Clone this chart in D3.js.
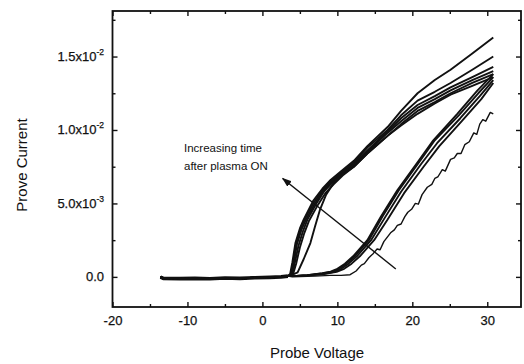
<!DOCTYPE html>
<html><head><meta charset="utf-8">
<script src="https://cdn.jsdelivr.net/npm/d3@7"></script>
<style>body{margin:0;background:#fff;} svg{display:block;font-family:"Liberation Sans",Arial,sans-serif;}</style>
</head><body>
<svg id="c" width="524" height="364"></svg>
<script>
// Values: voltage (V), current in units of 1e-3
const xTicks = [-20, -10, 0, 10, 20, 30];
const xTickLabels = ["-20", "-10", "0", "10", "20", "30"];
const yTicks = [0, 5, 10, 15];
const yTickLabels = [["0.0", ""], ["5.0x10", "-3"], ["1.0x10", "-2"], ["1.5x10", "-2"]];
const baseline = [[-13.6,-0.02],[-13.2,-0.1],[-11,-0.12],[-9,-0.1],[-7,-0.13],[-5,-0.08],[-3,-0.1],[-1,-0.06],[1,-0.03],[2.5,0.0],[3.4,0.05]];
const curveA1 = [[3.7,0.2],[4.0,1.0],[4.4,2.3],[5.0,3.3],[5.5,3.9],[6.8,5.2],[8,6.0],[9.1,6.6],[10.5,7.2],[12.2,7.9],[14,8.9],[16.7,10.2],[18.5,11.3],[20.7,12.5],[23,13.4],[25.1,14.1],[28,15.2],[30.8,16.3]];
const curveA2 = [[3.8,0.2],[4.1,1.0],[4.5,2.3],[5.1,3.3],[5.6,3.9],[6.9,5.1],[8,5.9],[9.1,6.5],[10.5,7.1],[12.2,7.8],[14,8.8],[16.7,10.0],[18.5,11.0],[20.7,12.0],[23,12.6],[25.1,13.2],[28,14.1],[30.8,15.0]];
const curveA3 = [[3.9,0.2],[4.2,1.0],[4.6,2.2],[5.2,3.2],[5.8,3.9],[7.0,5.0],[8,5.8],[9.1,6.4],[10.5,7.0],[12.2,7.7],[14,8.6],[16.7,9.9],[18.5,10.8],[20.7,11.7],[23,12.3],[25.1,12.9],[28,13.6],[30.8,14.3]];
const curveA4 = [[4.0,0.2],[4.3,0.9],[4.8,2.1],[5.4,3.1],[6.0,3.9],[7.2,5.0],[8.2,5.8],[9.3,6.4],[10.5,6.9],[12.2,7.6],[14,8.5],[16.7,9.8],[18.5,10.6],[20.7,11.5],[23,12.1],[25.1,12.7],[28,13.4],[30.8,14.0]];
const curveA5 = [[4.1,0.2],[4.5,0.9],[5.0,2.0],[5.6,3.0],[6.2,3.8],[7.4,4.9],[8.4,5.7],[9.5,6.3],[10.7,6.9],[12.2,7.5],[14,8.4],[16.7,9.6],[18.5,10.4],[20.7,11.3],[23,11.9],[25.1,12.5],[28,13.2],[30.8,13.8]];
const curveA6 = [[3.8,0.1],[4.7,0.3],[5.5,1.2],[6.4,2.3],[7.0,3.4],[7.7,4.6],[8.5,5.6],[9.5,6.4],[10.2,6.8],[12.2,7.5],[14,8.4],[16.7,9.6],[18.5,10.3],[20.7,11.1],[23,11.8],[25.1,12.4],[28,13.0],[30.8,13.6]];
const curveB1 = [[4,0.05],[6,0.12],[8,0.25],[9.1,0.35],[10,0.55],[11,0.9],[12.1,1.4],[14,2.5],[15.8,4.1],[18,5.9],[20.7,7.8],[22.8,9.3],[26,11.1],[28.7,12.7],[30.8,13.8]];
const curveB2 = [[4,0.05],[6,0.12],[8,0.23],[9.3,0.35],[10.2,0.55],[11.2,0.9],[12.3,1.4],[14.2,2.5],[16.0,4.1],[18.2,5.9],[20.9,7.8],[23.0,9.3],[26.2,11.0],[28.8,12.5],[30.8,13.6]];
const curveB3 = [[4,0.05],[6,0.1],[8,0.2],[9.6,0.35],[10.5,0.55],[11.5,0.9],[12.6,1.4],[14.5,2.5],[16.3,4.0],[18.5,5.8],[21.2,7.7],[23.3,9.1],[26.4,10.8],[29.0,12.3],[30.8,13.4]];
const curveB4 = [[4,0.05],[6,0.1],[8,0.18],[9.9,0.35],[10.9,0.55],[11.9,0.9],[13.0,1.4],[14.9,2.5],[16.7,3.9],[18.9,5.7],[21.5,7.5],[23.6,8.9],[26.6,10.6],[29.2,12.1],[30.8,13.2]];
const curveC1 = [[4,0.0],[7,0.05],[9,0.1],[10.5,0.1],[11.7,0.15],[12.5,0.4],[13.2,0.8],[13.6,0.9],[14.2,1.3],[14.8,1.6],[15.3,1.9],[15.7,1.85],[16.2,2.4],[17.1,3.0],[17.6,3.2],[18.0,3.5],[18.5,3.6],[19.0,4.1],[19.4,4.4],[19.9,4.6],[20.4,5.0],[20.8,4.95],[21.3,5.6],[22.0,6.1],[22.6,6.3],[23.0,6.7],[23.4,6.8],[24.0,7.3],[24.4,7.2],[25.1,8.0],[25.6,8.1],[26.0,8.4],[26.5,8.4],[27.0,9.0],[27.6,9.2],[28.2,9.8],[28.6,9.7],[29.0,10.4],[29.4,10.7],[29.8,10.6],[30.4,11.2],[30.8,11.1]];
const curves = [curveA1, curveA2, curveA3, curveA4, curveA5, curveA6, curveB1, curveB2, curveB3, curveB4, curveC1];
const arrowFrom = [17.8, 0.54], arrowTo = [2.7, 6.7];
const noteLines = ["Increasing time", "after plasma ON"];

const svg = d3.select("#c");
const x = d3.scaleLinear().domain([-20, 34.5]).range([112.5, 521]);
const y = d3.scaleLinear().domain([-2.05, 18.1]).range([307, 11]);
const ink = "#111";

svg.append("defs").append("marker").attr("id","ah").attr("viewBox","0 0 10 10").attr("refX",9).attr("refY",5)
  .attr("markerWidth",7).attr("markerHeight",7).attr("orient","auto")
  .append("path").attr("d","M0,1.5 L10,5 L0,8.5 Z").attr("fill",ink);

// frame
svg.append("rect").attr("x",x(-20)).attr("y",y(18.1)).attr("width",x(34.5)-x(-20)).attr("height",y(-2.05)-y(18.1))
  .attr("fill","none").attr("stroke",ink).attr("stroke-width",1.8);

// axes with inward ticks
const xMinor = [-15, -5, 5, 15, 25];
const yMinor = [2.5, 7.5, 12.5, 17.5];
const gb = svg.append("g").attr("transform",`translate(0,${y(-2.05)})`)
  .call(d3.axisBottom(x).tickValues(xTicks).tickSize(-5).tickPadding(9).tickFormat((d,i) => xTickLabels[i]));
const gt = svg.append("g").attr("transform",`translate(0,${y(18.1)})`)
  .call(d3.axisTop(x).tickValues(xTicks).tickSize(-5).tickFormat(""));
const gbm = svg.append("g").attr("transform",`translate(0,${y(-2.05)})`)
  .call(d3.axisBottom(x).tickValues(xMinor).tickSize(-3).tickFormat(""));
const gtm = svg.append("g").attr("transform",`translate(0,${y(18.1)})`)
  .call(d3.axisTop(x).tickValues(xMinor).tickSize(-3).tickFormat(""));
const gl = svg.append("g").attr("transform",`translate(${x(-20)},0)`)
  .call(d3.axisLeft(y).tickValues(yTicks).tickSize(-5).tickFormat(""));
const gr = svg.append("g").attr("transform",`translate(${x(34.5)},0)`)
  .call(d3.axisRight(y).tickValues(yTicks).tickSize(-5).tickFormat(""));
const glm = svg.append("g").attr("transform",`translate(${x(-20)},0)`)
  .call(d3.axisLeft(y).tickValues(yMinor).tickSize(-3).tickFormat(""));
const grm = svg.append("g").attr("transform",`translate(${x(34.5)},0)`)
  .call(d3.axisRight(y).tickValues(yMinor).tickSize(-3).tickFormat(""));
[gb,gt,gbm,gtm,gl,gr,glm,grm].forEach(g => {
  g.select(".domain").remove();
  g.selectAll("line").attr("stroke",ink).attr("stroke-width",1.4);
});
gb.selectAll("text").attr("font-size",13).attr("fill",ink).attr("stroke",ink).attr("stroke-width",0.25)
  .attr("font-family","Liberation Sans, Arial, sans-serif");

// y tick labels with superscripts
yTicks.forEach((v,i) => {
  const t = svg.append("text").attr("x",104).attr("y",y(v)+4.5).attr("text-anchor","end")
    .attr("font-size",13).attr("fill",ink).attr("stroke",ink).attr("stroke-width",0.25);
  t.append("tspan").text(yTickLabels[i][0]);
  if (yTickLabels[i][1]) t.append("tspan").attr("dy",-6).attr("font-size",8.5).text(yTickLabels[i][1]);
});

// axis titles
svg.append("text").attr("x",317).attr("y",358).attr("text-anchor","middle").attr("font-size",15).attr("fill",ink).text("Probe Voltage");
svg.append("text").attr("transform","translate(27,165) rotate(-90)").attr("text-anchor","middle").attr("font-size",15).attr("fill",ink).text("Prove Current");

// curves
const line = d3.line().x(d => x(d[0])).y(d => y(d[1])).curve(d3.curveLinear);
svg.append("path").attr("d", line(baseline)).attr("fill","none").attr("stroke",ink).attr("stroke-width",3.6);
curves.forEach((c,i) => {
  svg.append("path").attr("d", line(baseline.concat(c))).attr("fill","none").attr("stroke",ink)
    .attr("stroke-width", i === 10 ? 1.4 : 1.9).attr("stroke-linejoin","round");
});

// annotation
svg.append("line").attr("x1",x(arrowFrom[0])).attr("y1",y(arrowFrom[1])).attr("x2",x(arrowTo[0])).attr("y2",y(arrowTo[1]))
  .attr("stroke",ink).attr("stroke-width",1.4).attr("marker-end","url(#ah)");
noteLines.forEach((s,i) => {
  svg.append("text").attr("x",184).attr("y",152 + i*18).attr("font-size",11.5).attr("fill",ink).text(s);
});
</script>
</body></html>
